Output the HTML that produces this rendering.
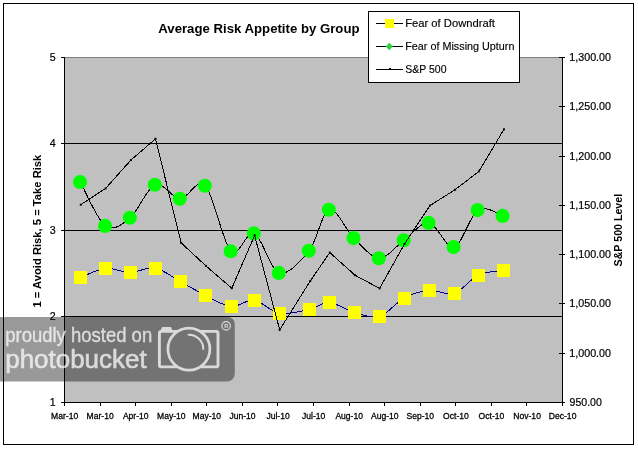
<!DOCTYPE html>
<html><head><meta charset="utf-8"><title>Average Risk Appetite by Group</title>
<style>
html,body{margin:0;padding:0;background:#fff;}
body{width:638px;height:451px;position:relative;overflow:hidden;font-family:"Liberation Sans",sans-serif;}
</style></head><body>
<svg width="638" height="451" viewBox="0 0 638 451" style="position:absolute;left:0;top:0;will-change:transform;font-family:'Liberation Sans',sans-serif">
<rect x="0" y="0" width="638" height="451" fill="#fff"/>
<rect x="3.5" y="3.5" width="630" height="441" fill="#fff" stroke="#000" stroke-width="1" shape-rendering="crispEdges"/>
<rect x="64" y="57" width="498" height="345" fill="#c0c0c0" shape-rendering="crispEdges"/>
<path d="M64,57.5 H562" stroke="#808080" stroke-width="1" fill="none" shape-rendering="crispEdges"/>
<path d="M64,143.5 H562" stroke="#000" stroke-width="1" fill="none" shape-rendering="crispEdges"/>
<path d="M64,230.5 H562" stroke="#000" stroke-width="1" fill="none" shape-rendering="crispEdges"/>
<path d="M64,316.5 H562" stroke="#000" stroke-width="1" fill="none" shape-rendering="crispEdges"/>
<g stroke="#000" stroke-width="1" fill="none" shape-rendering="crispEdges"><path d="M64.5,57 V403"/><path d="M562.5,57 V403"/><path d="M64,402.5 H563"/><path d="M61,57.5 H64"/><path d="M61,143.5 H64"/><path d="M61,230.5 H64"/><path d="M61,316.5 H64"/><path d="M61,402.5 H64"/><path d="M559,57.5 H565"/><path d="M559,106.5 H565"/><path d="M559,156.5 H565"/><path d="M559,205.5 H565"/><path d="M559,254.5 H565"/><path d="M559,303.5 H565"/><path d="M559,353.5 H565"/><path d="M559,402.5 H565"/><path d="M64.5,402 V406"/><path d="M100.5,402 V406"/><path d="M135.5,402 V406"/><path d="M171.5,402 V406"/><path d="M206.5,402 V406"/><path d="M242.5,402 V406"/><path d="M277.5,402 V406"/><path d="M313.5,402 V406"/><path d="M349.5,402 V406"/><path d="M384.5,402 V406"/><path d="M420.5,402 V406"/><path d="M455.5,402 V406"/><path d="M491.5,402 V406"/><path d="M526.5,402 V406"/><path d="M562.5,402 V406"/></g>
<path d="M80.3,181.9 C84.5,189.2 97.0,219.8 105.3,225.8 C113.6,231.8 121.9,224.5 130.2,217.7 C138.5,210.8 146.9,187.9 155.2,184.7 C163.5,181.5 171.8,198.5 180.1,198.7 C188.4,198.9 196.7,177.0 205.2,185.7 C213.7,194.4 222.8,243.2 231.0,251.1 C239.2,259.0 246.2,229.7 254.2,233.3 C262.2,236.9 270.0,270.0 279.2,272.9 C288.4,275.8 300.9,261.1 309.2,250.6 C317.5,240.1 321.8,211.8 329.2,209.7 C336.6,207.6 345.6,229.9 353.9,238.0 C362.2,246.1 370.8,257.7 379.1,258.1 C387.5,258.5 395.7,246.1 404.0,240.2 C412.3,234.3 420.7,221.7 429.0,222.8 C437.3,223.9 445.8,249.1 454.0,247.0 C462.2,244.9 469.8,215.2 478.0,210.0 C486.2,204.8 498.8,214.8 503.0,215.8" stroke="#000" stroke-width="1" fill="none" shape-rendering="crispEdges"/>
<path d="M80.3,277.6 C84.5,276.1 97.0,269.3 105.3,268.4 C113.6,267.5 121.9,272.4 130.2,272.4 C138.5,272.3 146.9,266.6 155.2,268.1 C163.5,269.6 171.8,276.9 180.1,281.4 C188.4,285.9 196.7,291.0 205.2,295.2 C213.7,299.4 222.8,305.7 231.0,306.5 C239.2,307.3 246.2,299.1 254.2,300.2 C262.2,301.3 270.0,311.6 279.2,313.2 C288.4,314.8 300.9,311.3 309.2,309.5 C317.5,307.7 321.8,302.1 329.2,302.5 C336.6,302.9 345.6,309.9 353.9,312.2 C362.2,314.5 370.8,318.8 379.1,316.5 C387.5,314.2 395.7,302.6 404.0,298.2 C412.3,293.8 420.7,291.0 429.0,290.2 C437.3,289.4 445.8,295.9 454.0,293.4 C462.2,290.9 469.8,279.3 478.0,275.4 C486.2,271.5 498.8,271.1 503.0,270.2" stroke="#000080" stroke-width="1" fill="none" shape-rendering="crispEdges"/>
<circle cx="80.0" cy="182.0" r="7.05" fill="#00ff00"/>
<circle cx="105.0" cy="225.9" r="7.05" fill="#00ff00"/>
<circle cx="129.8" cy="217.8" r="7.05" fill="#00ff00"/>
<circle cx="154.8" cy="184.8" r="7.05" fill="#00ff00"/>
<circle cx="179.8" cy="198.8" r="7.05" fill="#00ff00"/>
<circle cx="204.8" cy="185.8" r="7.05" fill="#00ff00"/>
<circle cx="230.7" cy="251.2" r="7.05" fill="#00ff00"/>
<circle cx="253.8" cy="233.4" r="7.05" fill="#00ff00"/>
<circle cx="278.8" cy="272.9" r="7.05" fill="#00ff00"/>
<circle cx="308.8" cy="250.7" r="7.05" fill="#00ff00"/>
<circle cx="328.8" cy="209.8" r="7.05" fill="#00ff00"/>
<circle cx="353.5" cy="238.1" r="7.05" fill="#00ff00"/>
<circle cx="378.8" cy="258.2" r="7.05" fill="#00ff00"/>
<circle cx="403.6" cy="240.2" r="7.05" fill="#00ff00"/>
<circle cx="428.6" cy="222.9" r="7.05" fill="#00ff00"/>
<circle cx="453.6" cy="247.1" r="7.05" fill="#00ff00"/>
<circle cx="477.6" cy="210.1" r="7.05" fill="#00ff00"/>
<circle cx="502.6" cy="215.9" r="7.05" fill="#00ff00"/>
<rect x="74" y="271" width="13" height="13" fill="#ffff00" shape-rendering="crispEdges"/>
<rect x="99" y="262" width="13" height="13" fill="#ffff00" shape-rendering="crispEdges"/>
<rect x="124" y="266" width="13" height="13" fill="#ffff00" shape-rendering="crispEdges"/>
<rect x="149" y="262" width="13" height="13" fill="#ffff00" shape-rendering="crispEdges"/>
<rect x="174" y="275" width="13" height="13" fill="#ffff00" shape-rendering="crispEdges"/>
<rect x="199" y="289" width="13" height="13" fill="#ffff00" shape-rendering="crispEdges"/>
<rect x="225" y="300" width="13" height="13" fill="#ffff00" shape-rendering="crispEdges"/>
<rect x="248" y="294" width="13" height="13" fill="#ffff00" shape-rendering="crispEdges"/>
<rect x="273" y="307" width="13" height="13" fill="#ffff00" shape-rendering="crispEdges"/>
<rect x="303" y="303" width="13" height="13" fill="#ffff00" shape-rendering="crispEdges"/>
<rect x="323" y="296" width="13" height="13" fill="#ffff00" shape-rendering="crispEdges"/>
<rect x="348" y="306" width="13" height="13" fill="#ffff00" shape-rendering="crispEdges"/>
<rect x="373" y="310" width="13" height="13" fill="#ffff00" shape-rendering="crispEdges"/>
<rect x="398" y="292" width="13" height="13" fill="#ffff00" shape-rendering="crispEdges"/>
<rect x="423" y="284" width="13" height="13" fill="#ffff00" shape-rendering="crispEdges"/>
<rect x="448" y="287" width="13" height="13" fill="#ffff00" shape-rendering="crispEdges"/>
<rect x="472" y="269" width="13" height="13" fill="#ffff00" shape-rendering="crispEdges"/>
<rect x="497" y="264" width="13" height="13" fill="#ffff00" shape-rendering="crispEdges"/>
<path d="M80.8,204.7 L105.6,188.4 L130.9,160.1 L155.5,138.8 L181.1,242.8 L205.9,265.9 L231.8,288.2 L254.6,235.5 L279.7,329.8 L310.3,280.9 L329.8,252.6 L355.0,275.2 L379.6,288.4 L404.5,244.0 L430.0,205.5 L455.1,189.7 L478.9,171.4 L504.0,129.3" stroke="#000" stroke-width="1" fill="none" shape-rendering="crispEdges"/>
<rect x="79.8" y="203.7" width="2" height="2" fill="#000"/>
<rect x="104.6" y="187.4" width="2" height="2" fill="#000"/>
<rect x="129.9" y="159.1" width="2" height="2" fill="#000"/>
<rect x="154.5" y="137.8" width="2" height="2" fill="#000"/>
<rect x="180.1" y="241.8" width="2" height="2" fill="#000"/>
<rect x="204.9" y="264.9" width="2" height="2" fill="#000"/>
<rect x="230.8" y="287.2" width="2" height="2" fill="#000"/>
<rect x="253.6" y="234.5" width="2" height="2" fill="#000"/>
<rect x="278.7" y="328.8" width="2" height="2" fill="#000"/>
<rect x="309.3" y="279.9" width="2" height="2" fill="#000"/>
<rect x="328.8" y="251.6" width="2" height="2" fill="#000"/>
<rect x="354.0" y="274.2" width="2" height="2" fill="#000"/>
<rect x="378.6" y="287.4" width="2" height="2" fill="#000"/>
<rect x="403.5" y="243.0" width="2" height="2" fill="#000"/>
<rect x="429.0" y="204.5" width="2" height="2" fill="#000"/>
<rect x="454.1" y="188.7" width="2" height="2" fill="#000"/>
<rect x="477.9" y="170.4" width="2" height="2" fill="#000"/>
<rect x="503.0" y="128.3" width="2" height="2" fill="#000"/>
<rect x="368.5" y="11.5" width="151" height="71" fill="#fff" stroke="#000" stroke-width="1" shape-rendering="crispEdges"/>
<path d="M376,23.5 H403" stroke="#000" stroke-width="1" shape-rendering="crispEdges"/>
<path d="M376,46.5 H403" stroke="#000" stroke-width="1" shape-rendering="crispEdges"/>
<path d="M376,69.5 H403" stroke="#000" stroke-width="1" shape-rendering="crispEdges"/>
<rect x="385" y="19" width="9" height="9" fill="#ffff00"/>
<path d="M389.3,42.8 L392.9,46.5 L389.3,50.2 L385.7,46.5 Z" fill="#2fd040"/>
<rect x="389" y="68" width="2" height="2" fill="#000"/>
<g font-size="11.5px" fill="#000" stroke="#000" stroke-width="0.15">
<text x="405.2" y="26.6" textLength="89.8" lengthAdjust="spacingAndGlyphs">Fear of Downdraft</text>
<text x="405.2" y="49.6" textLength="109.3" lengthAdjust="spacingAndGlyphs">Fear of Missing Upturn</text>
<text x="405.2" y="72.6" textLength="41.3" lengthAdjust="spacingAndGlyphs">S&amp;P 500</text>
</g>
<text x="158.3" y="33.4" font-size="13.3px" font-weight="bold" textLength="201.2" lengthAdjust="spacingAndGlyphs">Average Risk Appetite by Group</text>
<g font-size="10.67px" fill="#000" text-anchor="end" stroke="#000" stroke-width="0.2">
<text x="55.6" y="60.9">5</text>
<text x="55.6" y="146.9">4</text>
<text x="55.6" y="233.9">3</text>
<text x="55.6" y="319.9">2</text>
<text x="55.6" y="405.9">1</text>
</g>
<g font-size="10.67px" fill="#000" stroke="#000" stroke-width="0.2">
<text x="569.3" y="60.9" textLength="41.7" lengthAdjust="spacingAndGlyphs">1,300.00</text>
<text x="569.3" y="109.9" textLength="41.7" lengthAdjust="spacingAndGlyphs">1,250.00</text>
<text x="569.3" y="159.9" textLength="41.7" lengthAdjust="spacingAndGlyphs">1,200.00</text>
<text x="569.3" y="208.9" textLength="41.7" lengthAdjust="spacingAndGlyphs">1,150.00</text>
<text x="569.3" y="257.9" textLength="41.7" lengthAdjust="spacingAndGlyphs">1,100.00</text>
<text x="569.3" y="306.9" textLength="41.7" lengthAdjust="spacingAndGlyphs">1,050.00</text>
<text x="569.3" y="356.9" textLength="41.7" lengthAdjust="spacingAndGlyphs">1,000.00</text>
<text x="569.6" y="405.9" textLength="32.2" lengthAdjust="spacingAndGlyphs">950.00</text>
</g>
<g font-size="9.5px" fill="#000" stroke="#000" stroke-width="0.3">
<text x="51.1" y="418.8" textLength="27.1" lengthAdjust="spacingAndGlyphs">Mar-10</text>
<text x="86.6" y="418.8" textLength="27.1" lengthAdjust="spacingAndGlyphs">Mar-10</text>
<text x="122.9" y="418.8" textLength="25.7" lengthAdjust="spacingAndGlyphs">Apr-10</text>
<text x="157.1" y="418.8" textLength="28.5" lengthAdjust="spacingAndGlyphs">May-10</text>
<text x="192.6" y="418.8" textLength="28.5" lengthAdjust="spacingAndGlyphs">May-10</text>
<text x="229.4" y="418.8" textLength="26.1" lengthAdjust="spacingAndGlyphs">Jun-10</text>
<text x="266.4" y="418.8" textLength="23.3" lengthAdjust="spacingAndGlyphs">Jul-10</text>
<text x="302.0" y="418.8" textLength="23.3" lengthAdjust="spacingAndGlyphs">Jul-10</text>
<text x="335.4" y="418.8" textLength="27.6" lengthAdjust="spacingAndGlyphs">Aug-10</text>
<text x="371.0" y="418.8" textLength="27.6" lengthAdjust="spacingAndGlyphs">Aug-10</text>
<text x="406.5" y="418.8" textLength="27.6" lengthAdjust="spacingAndGlyphs">Sep-10</text>
<text x="443.1" y="418.8" textLength="25.7" lengthAdjust="spacingAndGlyphs">Oct-10</text>
<text x="478.6" y="418.8" textLength="25.7" lengthAdjust="spacingAndGlyphs">Oct-10</text>
<text x="513.3" y="418.8" textLength="27.6" lengthAdjust="spacingAndGlyphs">Nov-10</text>
<text x="548.8" y="418.8" textLength="27.6" lengthAdjust="spacingAndGlyphs">Dec-10</text>
</g>
<text transform="translate(40.7,307.5) rotate(-90)" font-size="11.4px" font-weight="bold" textLength="152.8" lengthAdjust="spacingAndGlyphs">1 = Avoid Risk, 5 = Take Risk</text>
<text transform="translate(622.2,266.4) rotate(-90)" font-size="11.3px" font-weight="bold" textLength="72.5" lengthAdjust="spacingAndGlyphs">S&amp;P 500 Level</text>
<path d="M0,317 H228 a6.8,6.8 0 0 1 6.8,6.8 V373.5 a8,8 0 0 1 -8,8 H0 Z" fill="#000" fill-opacity="0.4"/>
<g fill="#fff" stroke="#fff" opacity="0.74" stroke-linejoin="round">
<text x="5.2" y="342" font-size="20.5px" stroke-width="0.35" textLength="147" lengthAdjust="spacingAndGlyphs">proudly hosted on</text>
<text x="5.2" y="368" font-size="26px" stroke-width="0.55" textLength="141.5" lengthAdjust="spacingAndGlyphs">photobucket</text>
</g>
<g fill="none" stroke="#fff" opacity="0.74" stroke-width="3" stroke-linejoin="round" stroke-linecap="butt">
<path d="M177.5,331.4 H161.4 a2,2 0 0 0 -2,2 V364.9 a2,2 0 0 0 2,2 H177.5" stroke-width="2.9"/>
<path d="M200.3,331.4 H216 a2,2 0 0 1 2,2 V364.9 a2,2 0 0 1 -2,2 H200.3" stroke-width="2.9"/>
<path d="M160.4,331 L161.8,327.4 a0.8,0.8 0 0 1 0.7,-0.5 H170.6 a0.8,0.8 0 0 1 0.7,0.5 L172.4,331 Z" fill="#fff" stroke="none"/>
<circle cx="188.9" cy="349.1" r="21" stroke-width="2.7"/>
<path d="M188.6,334.7 A14.4,14.4 0 0 1 203.3,349" stroke-width="2" stroke-linecap="round"/>
</g>
<circle cx="226.1" cy="325.9" r="4.2" fill="none" stroke="#fff" stroke-opacity="0.74" stroke-width="1.2"/>
<text x="226.2" y="327.9" font-size="5.6px" font-weight="bold" fill="#fff" fill-opacity="0.74" text-anchor="middle">R</text>
</svg>
</body></html>
